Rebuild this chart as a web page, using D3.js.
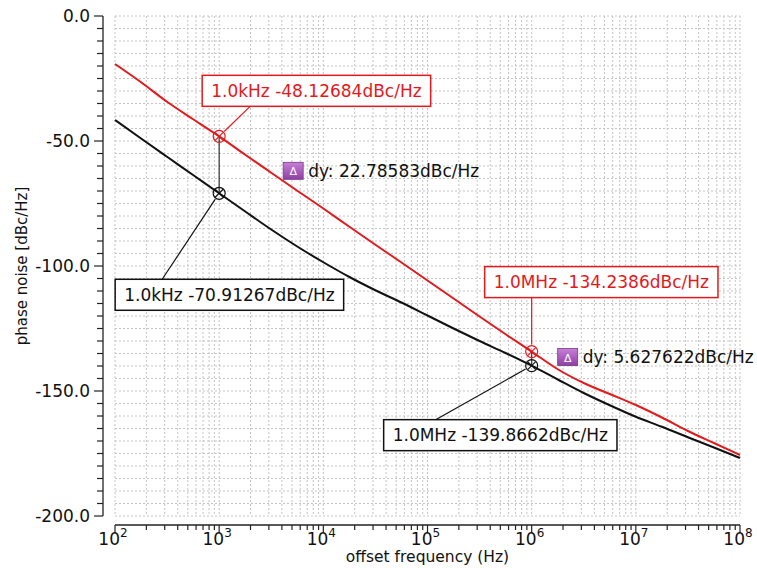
<!DOCTYPE html>
<html>
<head>
<meta charset="utf-8">
<script src="https://cdn.jsdelivr.net/npm/d3@7"></script>
<style>
  body { margin: 0; background: #fff; }
  svg text { font-family: "DejaVu Sans", sans-serif; }
</style>
</head>
<body>
<div id="chart"></div>
<script>
// offset frequency (Hz), read at quarter decades
const freqs = [1e2, 1.78e2, 3.16e2, 5.62e2, 1e3, 1.78e3, 3.16e3, 5.62e3, 1e4, 1.78e4, 3.16e4, 5.62e4,
               1e5, 1.78e5, 3.16e5, 5.62e5, 1e6, 1.78e6, 3.16e6, 5.62e6, 1e7, 1.78e7, 3.16e7, 5.62e7, 1e8];
// phase noise, dBc/Hz
const redNoise = [-19.2, -26.5, -34.3, -41.3, -48.13, -55.5, -62.7, -69.9, -77.0, -84.3, -91.5, -98.6,
                  -105.8, -113.0, -120.2, -127.3, -134.24, -141.3, -146.8, -151.2, -155.6, -160.6, -166.0, -170.8, -175.6];
const blackNoise = [-41.6, -49.0, -56.3, -63.6, -70.91, -78.2, -85.4, -92.2, -98.5, -104.4, -109.7, -114.6,
                    -119.8, -125.0, -130.0, -134.8, -139.87, -145.4, -150.8, -155.7, -160.3, -164.3, -168.5, -172.6, -176.8];

// markers
const markerFreqs = [1e3, 1e6];
const markerNames = ["1.0kHz", "1.0MHz"];
const redMarkers = [-48.12684, -134.2386];
const blackMarkers = [-70.91267, -139.8662];
const deltaLabels = ["22.78583", "5.627622"];

const yTickValues = [0, -50, -100, -150, -200];

const W = 757, H = 568;
const plot = {left: 115, right: 740, top: 16, bottom: 516};

const svg = d3.select("#chart").append("svg")
    .attr("width", W)
    .attr("height", H);

const x = d3.scaleLog().domain([1e2, 1e8]).range([plot.left, plot.right]);
const y = d3.scaleLinear().domain([-200, 0]).range([plot.bottom, plot.top]);

// grid
let logTicks = x.ticks();
let yMinor = d3.range(-200, 0.1, 5);

let grid = svg.append("g").attr("class", "grid");
grid.selectAll(".vgrid")
    .data(logTicks)
    .join("line")
    .attr("x1", d => x(d)).attr("x2", d => x(d))
    .attr("y1", plot.top).attr("y2", plot.bottom)
    .attr("stroke", "#c4c4c4")
    .attr("stroke-dasharray", "2,2")
    .attr("stroke-width", 1);
grid.selectAll(".hgrid")
    .data(yMinor)
    .join("line")
    .attr("x1", plot.left).attr("x2", plot.right)
    .attr("y1", d => y(d)).attr("y2", d => y(d))
    .attr("stroke", "#c4c4c4")
    .attr("stroke-dasharray", "2,2")
    .attr("stroke-width", 1);

// y axis
const yAxisX = 103;
let yAxis = svg.append("g").attr("class", "y-axis");
yAxis.append("line")
    .attr("x1", yAxisX).attr("x2", yAxisX)
    .attr("y1", y(0)).attr("y2", y(-200))
    .attr("stroke", "#222").attr("stroke-width", 1.3);
yAxis.selectAll(".ytick")
    .data(yMinor)
    .join("line")
    .attr("x1", d => d % 50 === 0 ? yAxisX - 9 : yAxisX - 6)
    .attr("x2", yAxisX)
    .attr("y1", d => y(d)).attr("y2", d => y(d))
    .attr("stroke", "#222").attr("stroke-width", 1.2);
yAxis.selectAll(".ylabel")
    .data(yTickValues)
    .join("text")
    .attr("x", yAxisX - 13)
    .attr("y", d => y(d))
    .attr("dy", "0.35em")
    .attr("text-anchor", "end")
    .attr("font-size", 17)
    .attr("fill", "#111")
    .text(d => d3.format(".1f")(d).replace("−", "-"));

svg.append("text")
    .attr("transform", `translate(27, ${(plot.top + plot.bottom) / 2}) rotate(-90)`)
    .attr("text-anchor", "middle")
    .attr("font-size", 15)
    .attr("fill", "#111")
    .text("phase noise [dBc/Hz]");

// x axis
const xAxisY = 525;
let xAxis = svg.append("g").attr("class", "x-axis");
xAxis.append("line")
    .attr("x1", plot.left).attr("x2", plot.right)
    .attr("y1", xAxisY).attr("y2", xAxisY)
    .attr("stroke", "#222").attr("stroke-width", 1.3);
xAxis.selectAll(".xtick")
    .data(logTicks)
    .join("line")
    .attr("x1", d => x(d)).attr("x2", d => x(d))
    .attr("y1", xAxisY)
    .attr("y2", d => Number.isInteger(Math.log10(d)) ? xAxisY + 8 : xAxisY + 5)
    .attr("stroke", "#222").attr("stroke-width", 1.2);
let decades = logTicks.filter(d => Number.isInteger(Math.log10(d)));
let xLabels = xAxis.selectAll(".xlabel")
    .data(decades)
    .join("text")
    .attr("x", d => x(d) - 2)
    .attr("y", 545)
    .attr("text-anchor", "middle")
    .attr("font-size", 17)
    .attr("fill", "#111");
xLabels.append("tspan").text("10");
xLabels.append("tspan")
    .attr("font-size", 12)
    .attr("dy", -8)
    .text(d => Math.round(Math.log10(d)));

svg.append("text")
    .attr("x", (plot.left + plot.right) / 2)
    .attr("y", 562)
    .attr("text-anchor", "middle")
    .attr("font-size", 15.5)
    .attr("fill", "#111")
    .text("offset frequency (Hz)");

// curves
const line = d3.line()
    .x(d => x(d[0]))
    .y(d => y(d[1]))
    .curve(d3.curveMonotoneX);

svg.append("path")
    .datum(freqs.map((f, i) => [f, blackNoise[i]]))
    .attr("d", line)
    .attr("fill", "none")
    .attr("stroke", "#111")
    .attr("stroke-width", 2);
svg.append("path")
    .datum(freqs.map((f, i) => [f, redNoise[i]]))
    .attr("d", line)
    .attr("fill", "none")
    .attr("stroke", "#e4191c")
    .attr("stroke-width", 2);

// delta connectors
markerFreqs.forEach((f, i) => {
    svg.append("line")
        .attr("x1", x(f)).attr("x2", x(f))
        .attr("y1", y(redMarkers[i])).attr("y2", y(blackMarkers[i]))
        .attr("stroke", "#333").attr("stroke-width", 1.2);
});

// marker symbols (circle with a cross)
function drawMarker(cx, cy, color) {
    let g = svg.append("g").attr("transform", `translate(${cx},${cy})`);
    g.append("circle").attr("r", 6).attr("fill", "none").attr("stroke", color).attr("stroke-width", 1.2);
    g.append("path").attr("d", "M-4,-4L4,4M-4,4L4,-4").attr("stroke", color).attr("stroke-width", 1.2);
}

// marker labels: box offsets from the marker, leader anchor on the box
const redBoxOffsets = [{dx: -17, dy: -61, lx: 48, side: "bottom"}, {dx: -47, dy: -85, lx: 47, side: "bottom"}];
const blackBoxOffsets = [{dx: -104, dy: 86, lx: 47, side: "top"}, {dx: -148, dy: 54, lx: 52, side: "top"}];

function drawLabel(f, v, off, color, name) {
    let mx = x(f), my = y(v);
    let g = svg.append("g");
    let t = g.append("text")
        .attr("font-size", 17)
        .attr("fill", color)
        .text(`${name} ${v}dBc/Hz`);
    let bw = t.node().getComputedTextLength() + 18;
    let bh = 31;
    let bx = mx + off.dx, by = my + off.dy;
    t.attr("x", bx + 9).attr("y", by + bh / 2).attr("dy", "0.35em");
    g.insert("rect", "text")
        .attr("x", bx).attr("y", by)
        .attr("width", bw).attr("height", bh)
        .attr("fill", "#fff")
        .attr("stroke", color)
        .attr("stroke-width", 1.5);
    let ax = bx + off.lx;
    let ay = off.side === "bottom" ? by + bh : by;
    let ang = Math.atan2(ay - my, ax - mx);
    g.append("line")
        .attr("x1", ax).attr("y1", ay)
        .attr("x2", mx + 7 * Math.cos(ang)).attr("y2", my + 7 * Math.sin(ang))
        .attr("stroke", color).attr("stroke-width", 1.2);
}

markerFreqs.forEach((f, i) => {
    drawLabel(f, redMarkers[i], redBoxOffsets[i], "#e4191c", markerNames[i]);
    drawLabel(f, blackMarkers[i], blackBoxOffsets[i], "#111", markerNames[i]);
    drawMarker(x(f), y(redMarkers[i]), "#e4191c");
    drawMarker(x(f), y(blackMarkers[i]), "#111");
});

// delta labels
const defs = svg.append("defs");
let grad = defs.append("linearGradient").attr("id", "deltaGrad")
    .attr("x1", 0).attr("y1", 0).attr("x2", 0).attr("y2", 1);
grad.append("stop").attr("offset", "0%").attr("stop-color", "#c77fd6");
grad.append("stop").attr("offset", "100%").attr("stop-color", "#8e3fa3");

const deltaOffsets = [{dx: 64, dy: 26}, {dx: 26, dy: -3}];
markerFreqs.forEach((f, i) => {
    let ix = x(f) + deltaOffsets[i].dx;
    let iy = y(redMarkers[i]) + deltaOffsets[i].dy;
    let g = svg.append("g");
    g.append("rect")
        .attr("x", ix).attr("y", iy)
        .attr("width", 20).attr("height", 17)
        .attr("fill", "url(#deltaGrad)")
        .attr("stroke", "#7a3590").attr("stroke-width", 0.8);
    g.append("text")
        .attr("x", ix + 10).attr("y", iy + 13)
        .attr("text-anchor", "middle")
        .attr("font-size", 11)
        .attr("fill", "#fff")
        .text("Δ");
    g.append("text")
        .attr("x", ix + 25).attr("y", iy + 8.5)
        .attr("dy", "0.35em")
        .attr("font-size", 17)
        .attr("fill", "#111")
        .text(`dy: ${deltaLabels[i]}dBc/Hz`);
});
</script>
</body>
</html>
